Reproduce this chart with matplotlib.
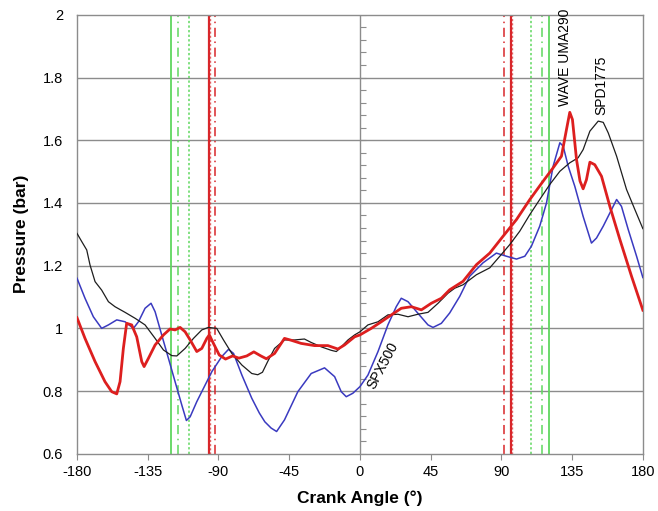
import numpy as np
import matplotlib
matplotlib.use("Agg")
import matplotlib.pyplot as plt

plt.rcParams['font.family'] = ['Liberation Sans', 'DejaVu Sans']
plt.rcParams['axes.unicode_minus'] = False

# SPD1775 (black)
spd_angle = [-180, -177, -173.8, -171.7, -168.5, -164.3, -160, -155.8, -149.4, -143,
             -136.7, -130.3, -125, -119.7, -116.5, -111.2, -105.9, -100.6, -96.4, -91.1,
             -86.8, -81.5, -75.1, -68.8, -65, -62, -58.6, -54.3, -48, -41.6,
             -35.3, -31, -24.6, -18.3, -15, -11.9, -7.6, -3.4, 0, 5.1,
             11.5, 17.8, 24.2, 30.6, 36.9, 43.3, 49.7, 56, 60.3, 65.6,
             74.1, 82.6, 89, 95.3, 101.7, 108.1, 114.4, 120.8, 127.2, 133.5,
             138.8, 142, 146.3, 151.6, 154.8, 158, 163.3, 169.6, 174.9, 180]
spd_p = [1.303, 1.277, 1.25, 1.202, 1.149, 1.122, 1.085, 1.069, 1.051, 1.032,
         1.011, 0.968, 0.931, 0.913, 0.912, 0.936, 0.968, 0.995, 1.003, 1.0,
         0.963, 0.920, 0.883, 0.856, 0.852, 0.860, 0.895, 0.936, 0.963, 0.963,
         0.966, 0.955, 0.941, 0.930, 0.926, 0.941, 0.963, 0.979, 0.989, 1.011,
         1.021, 1.043, 1.045, 1.037, 1.045, 1.051, 1.080, 1.112, 1.128, 1.139,
         1.171, 1.193, 1.230, 1.267, 1.310, 1.363, 1.411, 1.459, 1.501, 1.528,
         1.544, 1.570, 1.629, 1.661, 1.657, 1.623, 1.549, 1.443, 1.379, 1.318]

# WAVE UMA290 (red)
wave_angle = [-180, -174.9, -168.5, -162.2, -157.9, -154.7, -152.6, -150.5, -148.4, -145.2,
              -142, -138.8, -137.3, -134.6, -130.3, -125, -120.8, -117.6, -114.4, -111.2,
              -108, -103.8, -100.6, -97.4, -95.8, -93.2, -89.5, -85.5, -81, -77,
              -72, -67.5, -63, -59.5, -54.3, -48, -43.7, -37.4, -28.9, -20.4,
              -14, -9.8, -3.4, 0, 7.2, 13.6, 20, 26.3, 32.7, 39.1,
              45.4, 51.8, 57.1, 65.6, 74.1, 82.6, 91.1, 99.6, 108.1, 116.5,
              122.9, 128.2, 131.4, 133.5, 135.2, 137.8, 140, 142, 144.1, 146.3,
              149.4, 153.7, 159, 165.4, 172.8, 180]
wave_p = [1.034, 0.968, 0.894, 0.830, 0.798, 0.791, 0.830, 0.936, 1.016, 1.011,
          0.973, 0.894, 0.878, 0.904, 0.947, 0.979, 0.998, 0.995, 1.003, 0.989,
          0.963, 0.926, 0.936, 0.968, 0.979, 0.952, 0.915, 0.902, 0.912, 0.905,
          0.912, 0.925, 0.912, 0.903, 0.920, 0.968, 0.962, 0.952, 0.945, 0.945,
          0.934, 0.947, 0.973, 0.979, 1.0, 1.021, 1.043, 1.064, 1.069, 1.059,
          1.080, 1.096, 1.123, 1.150, 1.203, 1.240, 1.294, 1.347, 1.411, 1.469,
          1.512, 1.549, 1.634, 1.689, 1.666, 1.538, 1.470, 1.445, 1.474, 1.530,
          1.522, 1.485, 1.389, 1.283, 1.166, 1.058]

# SPX500 (blue)
spx_angle = [-180, -174.9, -169.6, -164.3, -160, -154.7, -149.4, -144.1, -140.9, -136.7,
             -132.9, -130.3, -126.1, -121.8, -117.6, -113.3, -110.4, -108, -103.8, -98.5,
             -94.2, -87.9, -83.6, -80.4, -75.1, -68.8, -64, -60.5, -56.5, -53,
             -48, -39.5, -31, -22.5, -16.1, -11.9, -8.7, -4.5, 0, 5.1,
             11.5, 17.8, 23.1, 26.3, 30.6, 36.9, 43.3, 46.5, 51.8, 57.1,
             63.5, 69.8, 78.3, 86.8, 93.2, 99.6, 104.9, 109.1, 114.4, 118.7,
             122.9, 127.2, 129.3, 132.5, 136.7, 142, 147.3, 150.5, 154.8, 159,
             163.3, 166.4, 170.7, 176, 180]
spx_p = [1.160, 1.096, 1.037, 1.0, 1.011, 1.027, 1.021, 1.0, 1.021, 1.064,
         1.080, 1.053, 0.979, 0.904, 0.830, 0.755, 0.706, 0.718, 0.766, 0.819,
         0.862, 0.910, 0.933, 0.920, 0.851, 0.777, 0.730, 0.702, 0.682, 0.671,
         0.708, 0.798, 0.856, 0.874, 0.846, 0.798, 0.782, 0.793, 0.814, 0.851,
         0.926, 1.011, 1.069, 1.096, 1.085, 1.048, 1.011, 1.003, 1.016, 1.049,
         1.102, 1.166, 1.209, 1.240, 1.230, 1.221, 1.230, 1.262, 1.326, 1.400,
         1.517, 1.592, 1.581, 1.517, 1.453, 1.357, 1.272, 1.288, 1.326, 1.368,
         1.411, 1.389, 1.315, 1.230, 1.162]

# valve event markers (crank angle)
green_solid = [-120, 120]
green_dash = [-116, 116]
green_dot = [-109, 109]
red_solid = [-96.3, 96]
red_dot = [-95.5, 96.8]
red_dashdot = [-92, 91.5]

x_ticks = [-180, -135, -90, -45, 0, 45, 90, 135, 180]
y_ticks = [0.6, 0.8, 1.0, 1.2, 1.4, 1.6, 1.8, 2.0]
y_tick_labels = ['0.6', '0.8', '1', '1.2', '1.4', '1.6', '1.8', '2']

fig = plt.figure(figsize=(6.58, 5.11), dpi=100)
ax = fig.add_axes([0.117, 0.112, 0.860, 0.859])

grid_c = '#8c8c8c'
for y in y_ticks[1:-1]:
    ax.axhline(y, color=grid_c, lw=1.0, zorder=1)

# centre axis with minor ticks
ax.axvline(0, color=grid_c, lw=1.0, zorder=1)
minor = np.arange(0.6, 2.0001, 0.04)
ax.plot(np.zeros(len(minor)), minor, ls='none', marker=1, ms=4,
        mew=0.8, color=grid_c, zorder=1)

green = '#5fd75f'
red = '#d8262a'
for a in green_solid:
    ax.axvline(a, color=green, lw=1.3, zorder=2)
for a in green_dash:
    ax.axvline(a, color=green, lw=1.1, ls=(0, (6, 3, 1, 3)), zorder=2)
for a in green_dot:
    ax.axvline(a, color=green, lw=1.1, ls=(0, (1.5, 1.5)), zorder=2)
for a in red_solid:
    ax.axvline(a, color=red, lw=1.6, zorder=2)
for a in red_dot:
    ax.axvline(a, color=red, lw=1.0, ls=(0, (1.5, 1.5)), alpha=0.7, zorder=2)
for a in red_dashdot:
    ax.axvline(a, color=red, lw=1.1, ls=(0, (6, 3, 1, 3)), zorder=2)

ax.plot(spx_angle, spx_p, color='#3a3ac0', lw=1.1, zorder=3)
ax.plot(spd_angle, spd_p, color='#1e1e1e', lw=0.9, zorder=4)
ax.plot(wave_angle, wave_p, color='#dd1f1f', lw=2.0, zorder=5)

ax.text(130.5, 1.71, 'WAVE UMA290', rotation=90, ha='center', va='bottom', fontsize=10)
ax.text(153.5, 1.68, 'SPD1775', rotation=90, ha='center', va='bottom', fontsize=10)
ax.text(14.5, 0.882, 'SPX500', rotation=62, ha='center', va='center',
        rotation_mode='anchor', fontsize=10)

ax.set_xlim(-180, 180)
ax.set_ylim(0.6, 2.0)
ax.set_xticks(x_ticks)
ax.set_yticks(y_ticks)
ax.set_yticklabels(y_tick_labels)
ax.tick_params(axis='x', direction='out', length=4, color=grid_c, labelsize=10.5, pad=4)
ax.tick_params(axis='y', length=0, labelsize=10.5, pad=10)
for s in ax.spines.values():
    s.set_color(grid_c)
    s.set_linewidth(1.0)

ax.set_xlabel('Crank Angle (°)', fontsize=12.5, fontweight='bold', labelpad=8)
ax.set_ylabel('Pressure (bar)', fontsize=12.5, fontweight='bold', labelpad=10)

fig.savefig('out.png', dpi=100)
